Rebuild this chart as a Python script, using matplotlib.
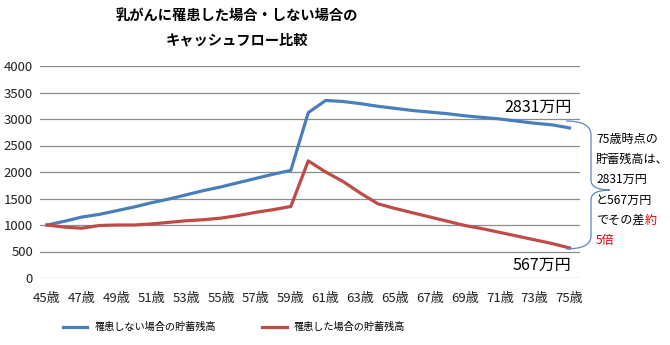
import matplotlib
matplotlib.use("Agg")
from matplotlib import pyplot as plt
from matplotlib.path import Path
from matplotlib.patches import PathPatch

plt.rcParams['font.family'] = ['Noto Sans CJK JP', 'DejaVu Sans']

ages = list(range(45, 76))
healthy = [1000, 1070, 1150, 1200, 1270, 1340, 1420, 1490, 1570, 1650,
           1720, 1800, 1880, 1960, 2030, 3120, 3350, 3330, 3290, 3240,
           3200, 3160, 3130, 3100, 3060, 3030, 3000, 2960, 2920, 2890, 2831]
sick = [1000, 960, 940, 990, 1000, 1000, 1020, 1050, 1080, 1100,
        1130, 1180, 1240, 1290, 1350, 2210, 2000, 1820, 1600, 1400,
        1310, 1230, 1150, 1070, 990, 930, 860, 790, 720, 650, 567]
tick_ages = list(range(45, 76, 2))
names = ['罹患しない場合の貯蓄残高', '罹患した場合の貯蓄残高']

BLUE = '#4a7ebb'
RED = '#be4b48'

fig = plt.figure(figsize=(6.7, 3.45), dpi=100)
ax = fig.add_axes([40 / 670, 67 / 345, 540 / 670, 212 / 345])

ax.plot(ages, healthy, color=BLUE, lw=2.3, label=names[0])
ax.plot(ages, sick, color=RED, lw=2.3, label=names[1])

ax.set_xlim(44.6, 75.6)
ax.set_ylim(0, 4000)
ax.set_yticks(range(0, 4001, 500))
ax.set_xticks(tick_ages)
ax.set_xticklabels([f'{a}歳' for a in tick_ages])
ax.grid(axis='y', color='#8c8c8c', lw=0.9)
ax.set_axisbelow(True)
for s in ax.spines.values():
    s.set_visible(False)
ax.tick_params(length=0, labelsize=9.5, colors='#222222')
ax.tick_params(axis='x', pad=10)
ax.tick_params(axis='y', pad=5)

# end values
ax.text(75.1, healthy[-1] + 390, f'{healthy[-1]}万円', ha='right', va='center', fontsize=11.5)
ax.text(75.1, sick[-1] - 320, f'{sick[-1]}万円', ha='right', va='center', fontsize=11.5)


def fx(px):
    return px / 670


def fy(py):
    return 1 - py / 345


# brace
verts = [(566, 121), (591, 121), (591, 135), (591, 180),
         (591, 190), (610, 190), (591, 190), (591, 200),
         (591, 236), (591, 249), (566, 249)]
codes = [Path.MOVETO, Path.CURVE3, Path.CURVE3, Path.LINETO,
         Path.CURVE3, Path.CURVE3, Path.CURVE3, Path.CURVE3,
         Path.LINETO, Path.CURVE3, Path.CURVE3]
brace = PathPatch(Path([(fx(x), fy(y)) for x, y in verts], codes),
                  transform=fig.transFigure, fill=False, edgecolor='#5b87c0', lw=0.9)
fig.patches.append(brace)

fs = 8.7
em = fs * 100 / 72
x0 = 596
note = ['75歳時点の', '貯蓄残高は、', '2831万円', 'と567万円']
for i, line in enumerate(note):
    fig.text(fx(x0), fy(139 + i * 20.3), line, fontsize=fs, va='center', ha='left')
fig.text(fx(x0), fy(139 + 4 * 20.3), 'でその差', fontsize=fs, va='center', ha='left')
fig.text(fx(x0 + 4 * em), fy(139 + 4 * 20.3), '約', fontsize=fs, va='center', ha='left', color='#e00000')
fig.text(fx(x0), fy(139 + 5 * 20.3), '5倍', fontsize=fs, va='center', ha='left', color='#e00000')

fig.text(fx(237), fy(16), '乳がんに罹患した場合・しない場合の', fontsize=10.3, fontweight='bold',
         ha='center', va='center')
fig.text(fx(237), fy(41), 'キャッシュフロー比較', fontsize=10.3, fontweight='bold',
         ha='center', va='center')

fig.legend(loc='center', bbox_to_anchor=(fx(234), fy(327)), ncol=2, frameon=False,
           fontsize=7.3, handlelength=2.4, columnspacing=4.6, handletextpad=0.7)

fig.savefig('out.png', dpi=100)
